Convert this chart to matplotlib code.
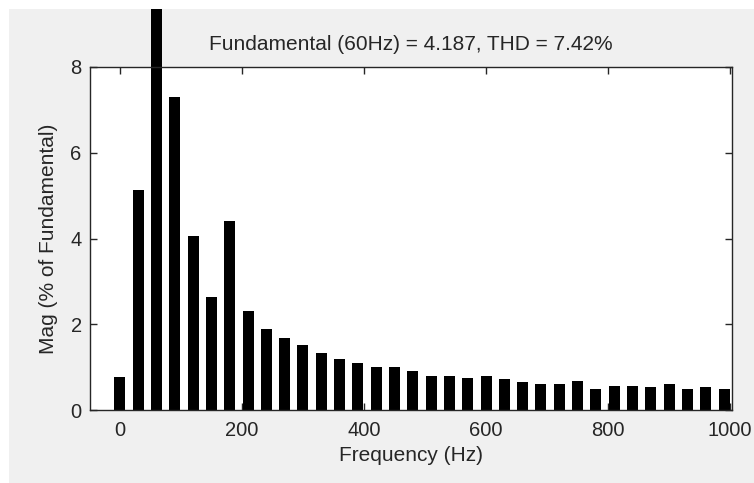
import matplotlib.pyplot as plt
from matplotlib.patches import Rectangle

# harmonic spectrum, bins every 30 Hz
freqs = list(range(0, 1000, 30))
mags = [0.78, 5.14, 100.0, 7.31, 4.06, 2.64, 4.40, 2.32, 1.90, 1.67,
        1.52, 1.32, 1.18, 1.10, 1.01, 1.01, 0.92, 0.79, 0.79, 0.75,
        0.79, 0.72, 0.65, 0.60, 0.60, 0.68, 0.48, 0.56, 0.56, 0.53,
        0.60, 0.48, 0.53, 0.48]
xticks = [0, 200, 400, 600, 800, 1000]
yticks = [0, 2, 4, 6, 8]
title = 'Fundamental (60Hz) = 4.187, THD = 7.42%'

dark = '#262626'
plt.rcParams['font.family'] = ['Liberation Sans', 'DejaVu Sans']
plt.rcParams['font.size'] = 14

fig = plt.figure(figsize=(7.54, 4.83), dpi=100, facecolor='white')
W, H = 754, 483

# grey window area, white strip on top/left like the screenshot
bg = Rectangle((9 / W, 0), 1 - 9 / W, 1 - 9 / H, transform=fig.transFigure,
               facecolor='#f0f0f0', edgecolor='none', zorder=-5)
fig.patches.append(bg)

ax = fig.add_axes([90 / W, 1 - 410 / H, (732 - 90) / W, (410 - 67) / H])
ax.set_facecolor('white')

bars = ax.bar(freqs, mags, width=18, color='black', zorder=2)
for b in bars:
    b.set_clip_path(bg)

ax.set_xlim(-49, 1003)
ax.set_ylim(0, 8)
ax.set_xticks(xticks)
ax.set_yticks(yticks)
ax.tick_params(direction='in', top=True, right=True, length=5, width=1,
               colors=dark, labelsize=14.5)
ax.tick_params(axis='x', pad=8)
ax.tick_params(axis='y', pad=6)
for s in ax.spines.values():
    s.set_color(dark)
    s.set_linewidth(1)
    s.set_zorder(3)

ax.set_xlabel('Frequency (Hz)', color=dark, fontsize=15, labelpad=4)
ax.set_ylabel('Mag (% of Fundamental)', color=dark, fontsize=15, labelpad=9)
ax.set_title(title, color=dark, fontsize=15, pad=12)

fig.savefig('out.png', dpi=100, facecolor=fig.get_facecolor())
